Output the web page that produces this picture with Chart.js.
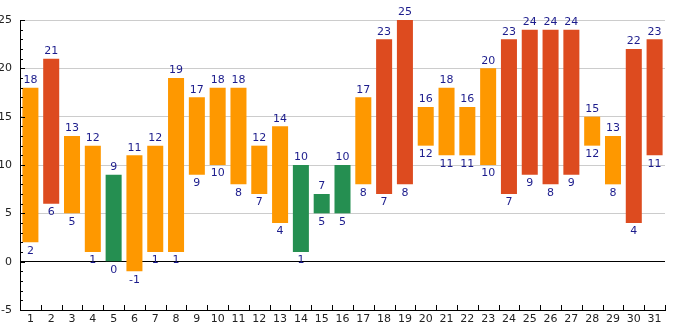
<!DOCTYPE html>
<html>
<head>
<meta charset="utf-8">
<script src="https://cdn.jsdelivr.net/npm/chart.js@4/dist/chart.umd.min.js"></script>
<style>
  html, body { margin: 0; padding: 0; background: #fff; }
  #wrap { width: 685px; height: 330px; }
</style>
</head>
<body>
<div id="wrap"><canvas id="chart"></canvas></div>
<script>
// daily temperature range for the month
const days = ['1','2','3','4','5','6','7','8','9','10','11','12','13','14','15','16',
              '17','18','19','20','21','22','23','24','25','26','27','28','29','30','31'];
const maxTemps = [18,21,13,12,9,11,12,19,17,18,18,12,14,10,7,10,17,23,25,16,18,16,20,23,24,24,24,15,13,22,23];
const minTemps = [2,6,5,1,0,-1,1,1,9,10,8,7,4,1,5,5,8,7,8,12,11,11,10,7,9,8,9,12,8,4,11];
const yTicks = [-5, 0, 5, 10, 15, 20, 25];

const COOL = '#258f51', MILD = '#fe9800', WARM = '#dd4b1f';
const labelColor = '#1c1c8c';

function barColor(hi) {
  if (hi <= 10) return COOL;
  if (hi >= 21) return WARM;
  return MILD;
}

// value labels: max above the bar, min below it
const rangeLabels = {
  id: 'rangeLabels',
  afterDatasetsDraw(chart) {
    const ctx = chart.ctx;
    const meta = chart.getDatasetMeta(0);
    ctx.save();
    ctx.font = '11px "DejaVu Sans"';
    ctx.fillStyle = labelColor;
    ctx.textAlign = 'center';
    meta.data.forEach((bar, i) => {
      ctx.textBaseline = 'bottom';
      ctx.fillText(String(maxTemps[i]), bar.x, bar.y - 2);
      ctx.textBaseline = 'top';
      ctx.fillText(String(minTemps[i]), bar.x, bar.base + 3);
    });
    ctx.restore();
  }
};

// inward tick marks on both axes
const innerTicks = {
  id: 'innerTicks',
  afterDraw(chart) {
    const ctx = chart.ctx;
    const x = chart.scales.x, y = chart.scales.y;
    const area = chart.chartArea;
    ctx.save();
    ctx.strokeStyle = '#000';
    ctx.lineWidth = 1;
    ctx.beginPath();
    for (let v = y.min; v <= y.max; v++) {
      const py = Math.round(y.getPixelForValue(v)) + 0.5;
      const len = v % 5 === 0 ? 5 : 3;
      ctx.moveTo(area.left, py);
      ctx.lineTo(area.left + len, py);
    }
    const step = (area.right - area.left) / days.length;
    for (let i = 1; i <= days.length; i++) {
      const px = Math.round(x.getPixelForValue(i - 1) + step / 2) + 0.5;
      ctx.moveTo(px, area.bottom);
      ctx.lineTo(px, area.bottom - 5);
    }
    ctx.stroke();
    ctx.restore();
  }
};

new Chart(document.getElementById('chart'), {
  type: 'bar',
  data: {
    labels: days,
    datasets: [{
      data: days.map((d, i) => [minTemps[i], maxTemps[i]]),
      backgroundColor: maxTemps.map(barColor),
      borderWidth: 0,
      barPercentage: 0.77,
      categoryPercentage: 1
    }]
  },
  options: {
    responsive: true,
    maintainAspectRatio: false,
    animation: false,
    layout: { padding: { top: 20, right: 20, left: 0, bottom: 0 } },
    plugins: { legend: { display: false }, tooltip: { enabled: false } },
    scales: {
      x: {
        grid: { display: false, drawTicks: false },
        border: { color: '#000', width: 1 },
        ticks: { color: '#222', font: { family: 'DejaVu Sans', size: 11 }, padding: 3, maxRotation: 0, autoSkip: false },
        afterFit(scale) { scale.height = 20; }
      },
      y: {
        min: yTicks[0],
        max: yTicks[yTicks.length - 1],
        afterBuildTicks(scale) { scale.ticks = yTicks.map(v => ({ value: v })); },
        grid: {
          drawTicks: false,
          color: c => (c.tick && c.tick.value === 0 ? '#000' : '#cccccc'),
          lineWidth: 1
        },
        border: { color: '#000', width: 1 },
        ticks: { color: '#222', font: { family: 'DejaVu Sans', size: 11 }, padding: 8 },
        afterFit(scale) { scale.width = 20; }
      }
    }
  },
  plugins: [rangeLabels, innerTicks]
});
</script>
</body>
</html>
